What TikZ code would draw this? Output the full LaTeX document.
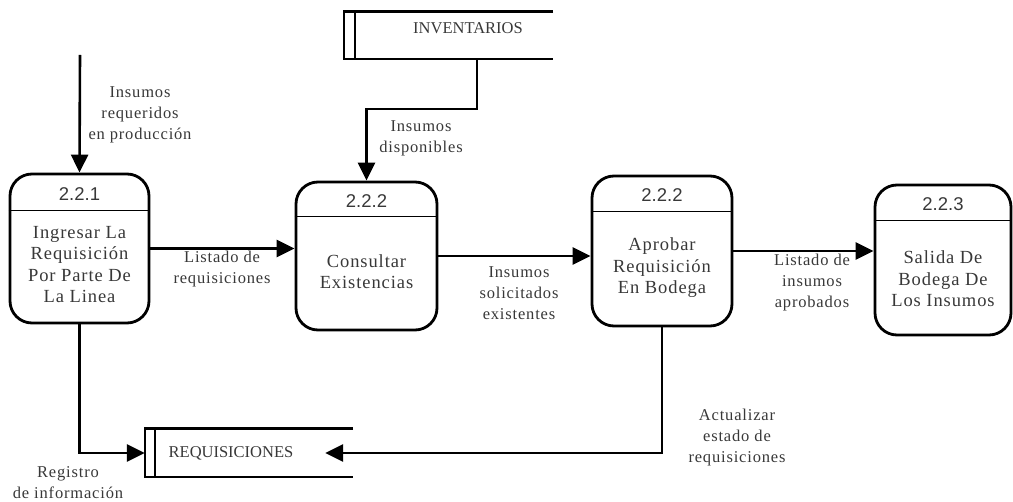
\documentclass[tikz,border=0pt]{standalone}
\usepackage{fontspec}
\setmainfont{Liberation Serif}
\newfontfamily\spacedserif{Liberation Serif}[LetterSpace=5]
\newfontfamily\numfont{Liberation Sans}
\usetikzlibrary{arrows.meta}
\definecolor{ink}{HTML}{383838}
\tikzset{
  procbox/.style={draw=black, line width=2.8pt, rounded corners=22pt, inner sep=0pt},
  divider/.style={draw=black, line width=1.2pt},
  headtext/.style={text=ink, font=\numfont\fontsize{18.5}{20}\selectfont, inner sep=0pt},
  bodytext/.style={text=ink, font=\spacedserif\fontsize{18.5}{21.5}\selectfont, align=center, inner sep=0pt},
  flowlabel/.style={text=ink, font=\spacedserif\fontsize{16.5}{21}\selectfont, align=center, inner sep=0pt},
  storetext/.style={text=ink, font=\fontsize{16.5}{20}\selectfont, inner sep=0pt},
  storearea/.style={inner sep=0pt},
  storeline/.style={draw=black, line width=2.6pt},
  flow/.style={draw=black, line width=2.6pt, -{Triangle[length=18pt,width=17pt]}},
}
\begin{document}
\begin{tikzpicture}[x=1pt,y=-1pt]
\useasboundingbox (0,0) rectangle (1013,502);

% processes
\node[procbox, minimum width=139pt, minimum height=149pt] (p1) at (79.5,248.5) {};
\node[procbox, minimum width=141pt, minimum height=148pt] (p2) at (366.5,256) {};
\node[procbox, minimum width=140pt, minimum height=150pt] (p3) at (662,251) {};
\node[procbox, minimum width=136pt, minimum height=150pt] (p4) at (943,260) {};

\draw[divider] ([yshift=-38pt]p1.north west) -- ([yshift=-38pt]p1.north east);
\draw[divider] ([yshift=-36pt]p2.north west) -- ([yshift=-36pt]p2.north east);
\draw[divider] ([yshift=-37pt]p3.north west) -- ([yshift=-37pt]p3.north east);
\draw[divider] ([yshift=-37pt]p4.north west) -- ([yshift=-37pt]p4.north east);

\node[headtext] (h1) at (79.5,194) {2.2.1};
\node[headtext] (h2) at (366.5,201) {2.2.2};
\node[headtext] (h3) at (662,195) {2.2.2};
\node[headtext] (h4) at (943,204) {2.2.3};

\node[bodytext] (t1) at (79.5,264.5) {Ingresar La\\Requisición\\Por Parte De\\La Linea};
\node[bodytext] (t2) at (366.5,271.5) {Consultar\\Existencias};
\node[bodytext] (t3) at (662,268) {Aprobar\\Requisición\\En Bodega};
\node[bodytext] (t4) at (943,279) {Salida De\\Bodega De\\Los Insumos};

% data stores
\node[storearea, minimum width=209pt, minimum height=47pt] (inv) at (448.5,35.5) {};
\draw[storeline] (inv.north east) -- (inv.north west) -- (inv.south west) -- (inv.south east);
\draw[storeline] ([xshift=11pt]inv.north west) -- ([xshift=11pt]inv.south west);
\node[storetext] (invlbl) at (468,28) {INVENTARIOS};

\node[storearea, minimum width=208pt, minimum height=48pt] (req) at (249,453) {};
\draw[storeline] (req.north east) -- (req.north west) -- (req.south west) -- (req.south east);
\draw[storeline] ([xshift=10pt]req.north west) -- ([xshift=10pt]req.south west);
\node[storetext] (reqlbl) at (231,453) {REQUISICIONES};

% free ends
\coordinate (src) at (80,55);
\coordinate (invtap) at (477,0);
\coordinate (reqin) at ([xshift=-28pt]req.east);

% flows
\draw[flow] (src) -- (p1.north);
\draw[flow] (inv.south -| invtap) -- ++(0,50) -| (p2.north);
\draw[flow] (p1.east) -- (p2.west |- p1.east);
\draw[flow] (p2.east) -- (p3.west |- p2.east);
\draw[flow] (p3.east) -- (p4.west |- p3.east);
\draw[flow] (p1.south) |- (req.west);
\draw[flow] (p3.south) |- (reqin);

% flow labels
\node[flowlabel] (l1) at (140,115) {Insumos\\requeridos\\en producción};
\node[flowlabel] (l2) at (421,138.5) {Insumos\\disponibles};
\node[flowlabel] (l3) at (222,269.5) {Listado de\\requisiciones};
\node[flowlabel] (l4) at (519,293) {Insumos\\solicitados\\existentes};
\node[flowlabel] (l5) at (812,282.5) {Listado de\\insumos\\aprobados};
\node[flowlabel] (l6) at (68,482.5) {Registro\\de información};
\node[flowlabel] (l7) at (737,438) {Actualizar\\estado de\\requisiciones};
\end{tikzpicture}
\end{document}
